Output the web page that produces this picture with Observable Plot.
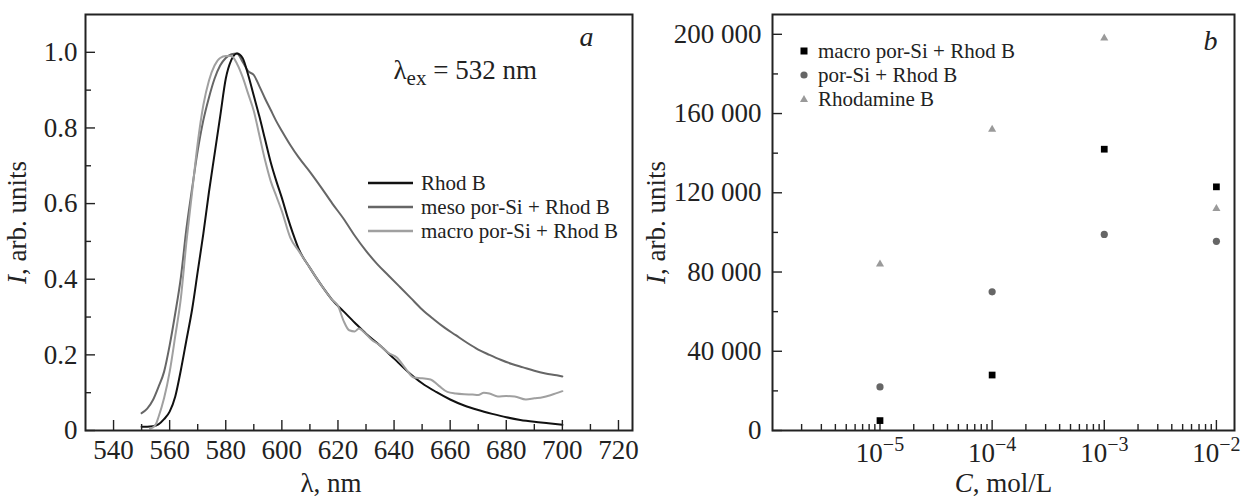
<!DOCTYPE html>
<html><head><meta charset="utf-8">
<script src="https://cdn.jsdelivr.net/npm/d3@7"></script>
<script src="https://cdn.jsdelivr.net/npm/@observablehq/plot@0.6"></script>
<style>
body{margin:0;background:#fff;}
#wrap{position:relative;width:1247px;height:502px;font-family:"Liberation Serif","Times New Roman",serif;color:#222;overflow:hidden;}
#pa{position:absolute;left:0;top:0;}
#pb{position:absolute;left:640px;top:0;}
.leg{position:absolute;font-size:21px;}
.leg .row{display:flex;align-items:center;height:24px;white-space:nowrap;}
.leg svg{display:block;flex:none;}
</style></head><body>
<div id="wrap"><div id="pa"></div><div id="pb"></div>
<div class="leg" id="legA" style="left:368px;top:171px;"></div>
<div class="leg" id="legB" style="left:798px;top:39px;"></div></div>
<script>
// ---------- Panel a: emission spectra [wavelength nm, normalized intensity] ----------
const rhodB = [[550,0.010],[552,0.010],[554,0.011],[556,0.016],[558,0.030],[560,0.050],[562,0.090],[564,0.160],[566,0.240],[568,0.320],[570,0.420],[572,0.520],[574,0.630],[576,0.730],[578,0.830],[580,0.930],[582,0.980],[584,0.997],[586,0.985],[588,0.940],[590,0.885],[592,0.830],[594,0.770],[596,0.710],[598,0.660],[600,0.615],[602,0.565],[604,0.520],[606,0.480],[610,0.430],[614,0.385],[618,0.345],[622,0.315],[626,0.285],[630,0.256],[635,0.225],[640,0.190],[645,0.155],[650,0.125],[655,0.102],[660,0.082],[665,0.066],[670,0.054],[675,0.044],[680,0.035],[685,0.028],[690,0.023],[695,0.019],[700,0.015]];
const mesoRhodB = [[550,0.046],[552,0.058],[554,0.080],[556,0.115],[558,0.155],[560,0.225],[562,0.310],[564,0.405],[566,0.535],[568,0.640],[570,0.740],[572,0.820],[574,0.880],[576,0.930],[578,0.965],[580,0.985],[582,0.995],[584,0.997],[586,0.975],[588,0.950],[590,0.940],[592,0.910],[594,0.878],[596,0.848],[598,0.818],[600,0.792],[603,0.755],[606,0.722],[610,0.684],[614,0.643],[618,0.600],[622,0.560],[626,0.515],[630,0.475],[634,0.440],[638,0.410],[642,0.380],[646,0.350],[650,0.320],[654,0.295],[658,0.272],[662,0.252],[666,0.232],[670,0.214],[674,0.200],[678,0.187],[682,0.176],[686,0.167],[690,0.158],[694,0.151],[698,0.146],[700,0.143]];
const macroRhodB = [[553,0.005],[554,0.008],[555,0.015],[556,0.035],[558,0.085],[560,0.155],[562,0.250],[564,0.350],[566,0.500],[568,0.630],[570,0.760],[572,0.860],[574,0.925],[576,0.965],[578,0.985],[580,0.990],[582,0.990],[584,0.970],[586,0.935],[588,0.890],[590,0.845],[592,0.780],[594,0.715],[596,0.660],[598,0.620],[600,0.580],[603,0.510],[606,0.475],[610,0.430],[614,0.385],[618,0.345],[620,0.330],[622,0.290],[624,0.265],[626,0.262],[627.5,0.270],[629,0.262],[632,0.240],[635,0.225],[638,0.205],[641,0.193],[644,0.165],[647,0.140],[650,0.138],[653,0.135],[656,0.118],[659,0.102],[662,0.098],[665,0.096],[668,0.095],[670,0.094],[672,0.100],[674,0.098],[677,0.090],[680,0.091],[683,0.090],[687,0.082],[690,0.085],[693,0.088],[696,0.094],[700,0.104]];
const seriesNamesA = ["Rhod B", "meso por-Si + Rhod B", "macro por-Si + Rhod B"];
const seriesColorsA = ["#111111", "#666666", "#a0a0a0"];
const xMajorA = [540,560,580,600,620,640,660,680,700,720];
const xMinorA = [550,570,590,610,630,650,670,690,710];
const yMajorA = [0,0.2,0.4,0.6,0.8,1.0];
const yMinorA = [0.1,0.3,0.5,0.7,0.9];

// ---------- Panel b: intensity vs concentration ----------
const concentrations = [1e-5, 1e-4, 1e-3, 1e-2];
const macroPorSiRhodB = [5000, 28000, 142000, 123000];
const porSiRhodB = [22000, 70000, 99000, 95500];
const rhodamineB = [84000, 152000, 198000, 112000];
const seriesNamesB = ["macro por-Si + Rhod B", "por-Si + Rhod B", "Rhodamine B"];
const seriesColorsB = ["#000000", "#666666", "#9a9a9a"];
const xMajorB = [1e-5, 1e-4, 1e-3, 1e-2];
const yMajorB = [0,40000,80000,120000,160000,200000];
const yMinorB = [20000,60000,100000,140000,180000];
const xMinorB = [];
for (const dec of [1e-6,1e-5,1e-4,1e-3]) for (let k = 2; k <= 9; k++) xMinorB.push(k*dec);

const fontFam = '"Liberation Serif", "Times New Roman", serif';
const ink = "#222";
const toXY = arr => arr.map(([x, y]) => ({x, y}));
const baseStyle = {fontFamily: fontFam, fontSize: "27px", color: ink, background: "transparent", overflow: "visible"};

const plotA = Plot.plot({
  width: 640, height: 502,
  marginLeft: 85, marginRight: 8, marginTop: 14, marginBottom: 72,
  style: baseStyle,
  x: {domain: [530, 725]},
  y: {domain: [0, 1.1]},
  marks: [
    Plot.line(toXY(mesoRhodB), {x: "x", y: "y", stroke: seriesColorsA[1], strokeWidth: 2, curve: "monotone-x"}),
    Plot.line(toXY(rhodB), {x: "x", y: "y", stroke: seriesColorsA[0], strokeWidth: 2, curve: "monotone-x"}),
    Plot.line(toXY(macroRhodB), {x: "x", y: "y", stroke: seriesColorsA[2], strokeWidth: 2, curve: "monotone-x"}),
    Plot.axisX(xMajorA, {tickSize: -10, fill: "none", stroke: ink, strokeWidth: 1.4}),
    Plot.axisX(xMinorA, {tickSize: -6, fill: "none", stroke: ink, strokeWidth: 1.4}),
    Plot.axisX(xMajorA, {tickSize: 0, tickPadding: 9, label: null, fill: ink}),
    Plot.axisY(yMajorA, {tickSize: -10, fill: "none", stroke: ink, strokeWidth: 1.4}),
    Plot.axisY(yMinorA, {tickSize: -6, fill: "none", stroke: ink, strokeWidth: 1.4}),
    Plot.axisY(yMajorA, {tickSize: 0, tickPadding: 8, label: null, fill: ink, tickFormat: d => d === 0 ? "0" : d.toFixed(1)}),
    Plot.frame({stroke: ink, strokeWidth: 2}),
    Plot.text(["a"], {text: d => d, frameAnchor: "top-right", textAnchor: "middle", dx: -46, dy: 12, fontStyle: "italic", fontSize: 28, fill: ink}),
    Plot.text(["λex = 532 nm"], {text: d => d, frameAnchor: "top-left", textAnchor: "start", dx: 308, dy: 45, fill: ink, ariaDescription: "lambda-ex"}),
    Plot.text(["λ, nm"], {text: d => d, frameAnchor: "bottom", textAnchor: "middle", dx: -28, dy: 61, fill: ink}),
    Plot.text(["I, arb. units"], {text: d => d, frameAnchor: "left", textAnchor: "middle", dx: -68, rotate: -90, fill: ink, ariaDescription: "ylabel-a"})
  ]
});

const ptsB = vals => concentrations.map((c, i) => ({c, v: vals[i]}));
const plotB = Plot.plot({
  width: 607, height: 502,
  marginLeft: 132, marginRight: 13, marginTop: 14, marginBottom: 72,
  style: baseStyle,
  x: {type: "log", domain: [1.1e-6, 1.45e-2]},
  y: {domain: [0, 210000]},
  marks: [
    Plot.axisX(xMajorB, {tickSize: -10, fill: "none", stroke: ink, strokeWidth: 1.4}),
    Plot.axisX(xMinorB, {tickSize: -6, fill: "none", stroke: ink, strokeWidth: 1.4}),
    Plot.axisX(xMajorB, {tickSize: 0, tickPadding: 12, label: null, fill: ink, tickFormat: d => "e" + Math.round(Math.log10(d))}),
    Plot.axisY(yMajorB, {tickSize: -10, fill: "none", stroke: ink, strokeWidth: 1.4}),
    Plot.axisY(yMinorB, {tickSize: -6, fill: "none", stroke: ink, strokeWidth: 1.4}),
    Plot.axisY(yMajorB, {tickSize: 0, tickPadding: 11, label: null, fill: ink, tickFormat: d => d === 0 ? "0" : d3.format(",")(d).replace(/,/g, " ")}),
    Plot.frame({stroke: ink, strokeWidth: 2}),
    Plot.dot(ptsB(rhodamineB), {x: "c", y: "v", symbol: "triangle", r: 3, fill: seriesColorsB[2]}),
    Plot.dot(ptsB(porSiRhodB), {x: "c", y: "v", symbol: "circle", r: 3.6, fill: seriesColorsB[1]}),
    Plot.dot(ptsB(macroPorSiRhodB), {x: "c", y: "v", symbol: "square", r: 3.8, fill: seriesColorsB[0]}),
    Plot.text(["b"], {text: d => d, frameAnchor: "top-right", textAnchor: "middle", dx: -24, dy: 16, fontStyle: "italic", fontSize: 28, fill: ink}),
    Plot.text(["C, mol/L"], {text: d => d, frameAnchor: "bottom", textAnchor: "middle", dy: 61, fill: ink, ariaDescription: "xlabel-b"}),
    Plot.text(["I, arb. units"], {text: d => d, frameAnchor: "left", textAnchor: "middle", dx: -116, rotate: -90, fill: ink, ariaDescription: "ylabel-b"})
  ]
});

document.getElementById("pa").appendChild(plotA);
document.getElementById("pb").appendChild(plotB);

// rich text tweaks (italic symbols, subscripts, superscripts)
const NS = "http://www.w3.org/2000/svg";
function richText(el, parts) {
  el.textContent = "";
  for (const p of parts) {
    if (typeof p === "string") { el.appendChild(document.createTextNode(p)); continue; }
    const t = document.createElementNS(NS, "tspan");
    for (const [k, v] of Object.entries(p.attrs || {})) t.setAttribute(k, v);
    t.textContent = p.text;
    el.appendChild(t);
  }
}
function findText(desc, str) {
  let els = Array.from(document.querySelectorAll(`g[aria-description="${desc}"] text`));
  if (!els.length) els = Array.from(document.querySelectorAll("svg text")).filter(t => t.textContent === str);
  return els;
}
findText("ylabel-a", "I, arb. units").concat(findText("ylabel-b", "I, arb. units"))
  .filter((el, i, a) => a.indexOf(el) === i)
  .forEach(el => richText(el, [{text: "I", attrs: {"font-style": "italic"}}, ", arb. units"]));
findText("xlabel-b", "C, mol/L").forEach(el =>
  richText(el, [{text: "C", attrs: {"font-style": "italic"}}, ", mol/L"]));
findText("lambda-ex", "λex = 532 nm").forEach(el =>
  richText(el, ["λ", {text: "ex", attrs: {"font-size": "21", dy: "6"}}, {text: " = 532 nm", attrs: {dy: "-6"}}]));
plotB.querySelectorAll('g[aria-label="x-axis tick label"] text').forEach(el => {
  const s = el.textContent;
  if (s.startsWith("e")) {
    const exp = s.slice(1).replace("-", "\u2212");
    richText(el, ["10", {text: exp, attrs: {"font-size": "20", dy: "-11"}}]);
  }
});

// legends
const legA = document.getElementById("legA");
seriesNamesA.forEach((name, i) => {
  const row = document.createElement("div"); row.className = "row";
  row.innerHTML = `<svg width="45" height="6"><line x1="0" x2="45" y1="3" y2="3" stroke="${seriesColorsA[i]}" stroke-width="2.5"/></svg><span style="margin-left:8px">${name}</span>`;
  legA.appendChild(row);
});
const legB = document.getElementById("legB");
const shapesB = [
  c => `<rect x="2.5" y="2.5" width="7" height="7" fill="${c}"/>`,
  c => `<circle cx="6" cy="6" r="3.6" fill="${c}"/>`,
  c => `<path d="M6,2 L10,9 L2,9 Z" fill="${c}"/>`
];
seriesNamesB.forEach((name, i) => {
  const row = document.createElement("div"); row.className = "row";
  row.innerHTML = `<svg width="12" height="12">${shapesB[i](seriesColorsB[i])}</svg><span style="margin-left:8px">${name}</span>`;
  legB.appendChild(row);
});
</script>
</body></html>
